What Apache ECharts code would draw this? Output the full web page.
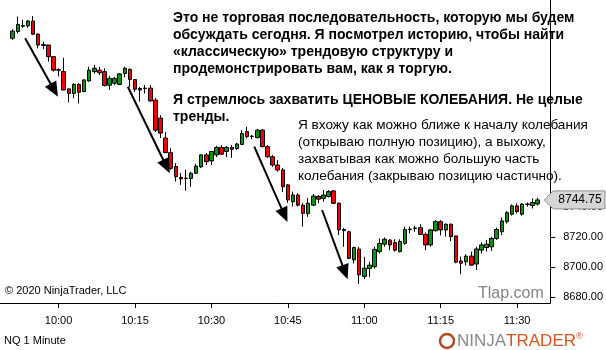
<!DOCTYPE html>
<html><head><meta charset="utf-8">
<script src="https://cdn.jsdelivr.net/npm/echarts@6/dist/echarts.min.js"></script>
<style>html,body{margin:0;padding:0;background:#fff}#c{width:606px;height:350px}</style>
</head><body><div id="c"></div>
<script>
// ---- data (NQ 1 Minute, first candle 9:51) ----
const startMinute = 9 * 60 + 51;
const leadBlanks = 2, tailBlanks = 2;
const open = [
8852.5, 8857, 8860.5, 8860.75, 8864, 8855.25, 8848.25, 8848, 8840.25, 8831.5,
8830.25, 8818.75, 8815.75, 8821.75, 8817, 8824, 8830.25, 8831.25, 8830.25, 8821.25,
8822.5, 8821.75, 8829, 8831.75, 8825, 8819, 8819.25, 8819.25, 8811.25, 8799.25,
8786, 8776.25, 8767, 8759.75, 8759.25, 8759, 8762.5, 8766.75, 8774.75, 8770.75,
8774.75, 8779.75, 8777, 8779.75, 8779, 8781.75, 8790.25, 8787, 8786.25, 8791.25,
8780.25, 8773.5, 8768, 8764.75, 8754.75, 8743.5, 8748, 8741.25, 8735.75, 8741.25,
8747, 8745.75, 8747, 8750.75, 8742.5, 8725, 8723.5, 8704.75, 8712, 8693.75,
8699, 8700.25, 8710.25, 8715.25, 8718, 8716.25, 8710.25, 8715.75, 8725, 8725.75,
8726.25, 8721.75, 8714.75, 8724.25, 8730.25, 8724.75, 8728.5, 8720.75, 8704, 8703.5,
8707.25, 8702, 8711.25, 8713, 8713.5, 8719, 8723.5, 8730.25, 8735.25, 8740.75,
8735.25, 8741.75, 8741, 8742
];
const close = [
8857.25, 8861.75, 8861, 8864, 8855.25, 8848, 8847.75, 8840.25, 8831.25, 8831.25,
8818, 8815.75, 8821.75, 8816.5, 8824.75, 8831.25, 8832.5, 8829.5, 8821, 8825.75,
8825.75, 8828.75, 8832.5, 8825, 8818.5, 8818, 8819, 8810.75, 8791.25, 8789.25,
8776.25, 8765.75, 8760.25, 8758.75, 8759, 8762.5, 8767.25, 8774.75, 8770.25, 8777,
8779.75, 8775.25, 8779.75, 8778.5, 8782, 8789, 8787, 8787.25, 8791.25, 8780.25,
8773.5, 8768, 8764.75, 8753.5, 8744.75, 8748, 8741.25, 8735.75, 8742.5, 8747.25,
8745.25, 8748, 8750.25, 8742.5, 8724.75, 8724.25, 8705.75, 8713, 8694.75, 8699.25,
8701.25, 8711.75, 8715.75, 8718.5, 8714.75, 8711.25, 8717, 8725, 8725.25, 8726,
8721.75, 8714.75, 8724.75, 8730.25, 8724.75, 8728.5, 8720.25, 8703.25, 8702.5, 8707.25,
8701.25, 8712, 8714.75, 8715.25, 8719, 8725, 8730.75, 8736.25, 8740.75, 8737,
8742, 8742, 8743, 8744.75
];
const low = [
8851.25, 8855.75, 8859.5, 8859.5, 8854.75, 8845.75, 8845.25, 8837, 8830.25, 8827,
8818, 8809.75, 8812.5, 8809, 8816.5, 8823.5, 8829, 8828, 8820.25, 8818,
8821.25, 8821.25, 8826.5, 8819.75, 8816.75, 8810.25, 8815.75, 8810.25, 8790, 8786,
8776, 8764.75, 8757, 8754.75, 8751, 8753.5, 8762, 8766, 8768, 8768,
8773.25, 8774.75, 8773.25, 8772.75, 8778, 8781.25, 8785.75, 8785.25, 8785.75, 8779.75,
8772.75, 8766.75, 8763.5, 8750, 8742.75, 8740.25, 8740.25, 8727, 8733.5, 8740.75,
8742.5, 8743.5, 8746.25, 8742, 8721.25, 8713.5, 8705.25, 8702.5, 8688.75, 8692,
8693.5, 8699, 8709, 8713.5, 8711.25, 8710.25, 8709.75, 8714.75, 8722.5, 8723.5,
8721.25, 8711.25, 8713.5, 8723.5, 8721, 8720.25, 8717.25, 8702.5, 8695.25, 8701,
8701, 8698, 8709, 8710.25, 8710.75, 8718, 8721.25, 8729, 8734.25, 8735.75,
8734.25, 8740.25, 8739, 8741
];
const high = [
8858.5, 8867, 8864.75, 8864.75, 8867.25, 8855.75, 8850.25, 8848, 8840.25, 8832.5,
8839.5, 8819, 8822.5, 8822.5, 8825, 8833.5, 8834.75, 8833.5, 8832.5, 8827.5,
8826.75, 8829.25, 8833.5, 8832.5, 8825, 8820, 8821.25, 8821.25, 8812.75, 8801.25,
8790, 8779.25, 8769.25, 8762.75, 8764.75, 8763.5, 8768.75, 8775.25, 8776, 8777.25,
8780.75, 8781.25, 8780.75, 8781.25, 8782.75, 8791.25, 8793.5, 8788, 8792, 8792,
8781.25, 8774.75, 8771.25, 8766, 8755.25, 8750.25, 8749.25, 8742.75, 8746, 8748.75,
8748, 8751.25, 8751.25, 8751.25, 8743, 8726, 8724.25, 8713.5, 8713.5, 8706.75,
8703.5, 8713.5, 8719, 8719.75, 8718.5, 8718.5, 8718.5, 8727, 8727, 8727.5,
8728.5, 8723, 8725.25, 8731.25, 8731.25, 8729, 8729, 8720.75, 8707, 8708.5,
8710.25, 8713.5, 8716.5, 8718, 8720.25, 8726.25, 8733, 8737.25, 8741.75, 8742.5,
8742.5, 8743, 8745.75, 8746.25
];
const yTicks = [8680, 8700, 8720, 8740];
const timeTicks = ['10:00', '10:15', '10:30', '10:45', '11:00', '11:15', '11:30'];
const lastPrice = 8744.75;
// arrows: [candleIndexStart, priceStart, candleIndexTip, priceTip]
const arrows = [
  [2.43, 8852.5, 8.87, 8813.5],
  [22.59, 8820.2, 30.81, 8762.5],
  [47.41, 8780.2, 53.92, 8730],
  [60.72, 8738, 65.73, 8691.8]
];
const noteMain = [
  'Это не торговая последовательность, которую мы будем',
  'обсуждать сегодня. Я посмотрел историю, чтобы найти',
  '«классическую» трендовую структуру и',
  'продемонстрировать вам, как я торгую.',
  'Я стремлюсь захватить ЦЕНОВЫЕ КОЛЕБАНИЯ. Не целые',
  'тренды.'
];
const noteMainY = [18, 35, 52, 69, 100, 117];
const noteSide = [
  'Я вхожу как можно ближе к началу колебания',
  '(открываю полную позицию), а выхожу,',
  'захватывая как можно большую часть',
  'колебания (закрываю позицию частично).'
];

// ---- build ----
const cats = [];
const candles = [];
for (let k = 0; k < leadBlanks; k++) { cats.push(''); candles.push('-'); }
for (let i = 0; i < open.length; i++) {
  const m = startMinute + i;
  cats.push(Math.floor(m / 60) + ':' + String(m % 60).padStart(2, '0'));
  candles.push([open[i], close[i], low[i], high[i]]);
}
for (let k = 0; k < tailBlanks; k++) { cats.push(''); candles.push('-'); }
const nCat = cats.length;

const FONT = '"Liberation Sans", Arial, sans-serif';
const chart = echarts.init(document.getElementById('c'), null, {renderer: 'canvas'});
const showTime = (idx, v) => timeTicks.indexOf(v) >= 0;

chart.setOption({
  animation: false,
  backgroundColor: '#fff',
  grid: {left: -1, right: 53, top: 0, bottom: 47, containLabel: false},
  xAxis: [{
    type: 'category', data: cats, boundaryGap: true,
    axisLine: {onZero: false, lineStyle: {color: '#000', width: 1}},
    axisTick: {show: true, alignWithLabel: true, length: 5, interval: showTime, lineStyle: {color: '#000'}},
    axisLabel: {interval: showTime, color: '#000', fontSize: 11, fontFamily: FONT, margin: 12},
    splitLine: {show: false}
  }, {
    type: 'value', min: -0.5 - leadBlanks, max: nCat - 0.5 - leadBlanks, show: false,
    axisLine: {onZero: false}
  }],
  yAxis: [{
    type: 'value', position: 'right', min: 8676, max: 8878, scale: true,
    axisLine: {show: true, onZero: false, lineStyle: {color: '#000', width: 1}},
    axisTick: {show: true, length: 5, customValues: yTicks, lineStyle: {color: '#000'}},
    axisLabel: {customValues: yTicks, color: '#000', fontSize: 11, fontFamily: FONT, margin: 13,
      formatter: v => v.toFixed(2)},
    splitLine: {show: false}
  }],
  series: [{
    type: 'candlestick', data: candles, barWidth: 4,
    itemStyle: {color: '#0c940c', color0: '#f00000', borderColor: '#000', borderColor0: '#000', borderWidth: 1}
  }]
});

const X = v => chart.convertToPixel({xAxisIndex: 1}, v);
const Y = v => chart.convertToPixel({yAxisIndex: 0}, v);
const axisX = X(nCat - 0.5 - leadBlanks);
const g = [];
// arrows
arrows.forEach(a => {
  const x1 = X(a[0]), y1 = Y(a[1]), x2 = X(a[2]), y2 = Y(a[3]);
  const dx = x2 - x1, dy = y2 - y1, len = Math.hypot(dx, dy);
  const ux = dx / len, uy = dy / len, L = 15, W = 13;
  const bx = x2 - ux * L, by = y2 - uy * L;
  g.push({type: 'line', shape: {x1: x1, y1: y1, x2: bx + ux * 2, y2: by + uy * 2}, style: {stroke: '#000', lineWidth: 2}, z: 50});
  g.push({type: 'polygon', shape: {points: [[x2, y2], [bx - uy * W / 2, by + ux * W / 2], [bx + uy * W / 2, by - ux * W / 2]]},
    style: {fill: '#000'}, z: 50});
});
// notes
noteMain.forEach((t, i) => {
  g.push({type: 'text', x: 173, y: noteMainY[i], style: {text: t, font: 'bold 14px ' + FONT, fill: '#000', verticalAlign: 'middle'}, z: 60});
});
noteSide.forEach((t, i) => {
  g.push({type: 'text', x: 298, y: 125 + i * 17, style: {text: t, font: '13.6px ' + FONT, fill: '#000', verticalAlign: 'middle'}, z: 60});
});
// last price tag
const ty = Y(lastPrice), tx = axisX - 6;
g.push({type: 'polygon', shape: {points: [[tx, ty], [tx + 9, ty - 9], [605, ty - 9], [605, ty + 9], [tx + 9, ty + 9]]},
  style: {fill: '#d6d6d6', stroke: '#8f8f8f', lineWidth: 1}, z: 70});
g.push({type: 'text', x: 580, y: ty, style: {text: lastPrice.toFixed(2), font: '12px ' + FONT, fill: '#000', align: 'center', verticalAlign: 'middle'}, z: 71});
// captions
g.push({type: 'text', x: 5, y: 291, style: {text: '© 2020 NinjaTrader, LLC', font: '11px ' + FONT, fill: '#000', verticalAlign: 'middle'}, z: 60});
g.push({type: 'text', x: 4, y: 341, style: {text: 'NQ 1 Minute', font: '11px ' + FONT, fill: '#000', verticalAlign: 'middle'}, z: 60});
g.push({type: 'rect', shape: {x: 474, y: 284, width: 75, height: 19}, style: {fill: '#fff'}, z: 58});
g.push({type: 'text', x: 478, y: 294, style: {text: 'Tlap.com', font: '16px ' + FONT, fill: '#858585', verticalAlign: 'middle'}, z: 60});
// logo
g.push({type: 'circle', shape: {cx: 447, cy: 341, r: 7}, style: {fill: 'none', stroke: '#b04a28', lineWidth: 2.5}, z: 60});
g.push({type: 'text', x: 457, y: 341, style: {
  text: '{a|NINJA}{b|TRADER}{c|®}', verticalAlign: 'middle',
  rich: {
    a: {font: '17px ' + FONT, fill: '#8a8a8a'},
    b: {font: '17px ' + FONT, fill: '#d9541e'},
    c: {font: '9px ' + FONT, fill: '#d9541e', verticalAlign: 'top'}
  }}, z: 60});
chart.setOption({graphic: g});
</script></body></html>
